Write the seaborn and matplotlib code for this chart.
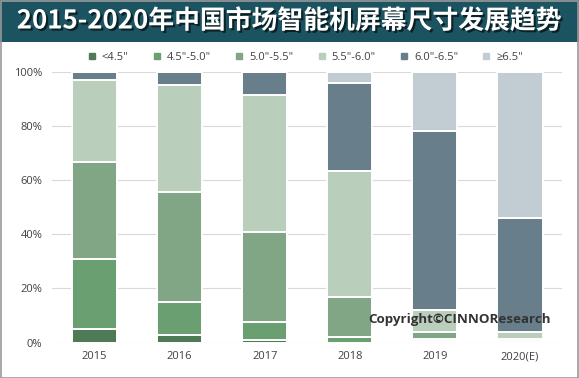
import numpy as np
import pandas as pd
import seaborn as sns
import matplotlib
matplotlib.use("Agg")
import matplotlib.pyplot as plt
from matplotlib.patches import Rectangle
from matplotlib.lines import Line2D
import matplotlib.patheffects as pe
from matplotlib.ticker import FuncFormatter

years = ["2015", "2016", "2017", "2018", "2019", "2020(E)"]
sizes = ['<4.5"', '4.5"-5.0"', '5.0"-5.5"', '5.5"-6.0"', '6.0"-6.5"', '≥6.5"']
s_lt45 = [5.0, 3.0, 1.0, 0.0, 0.5, 0.0]
s_45_50 = [26.0, 12.0, 6.5, 2.0, 1.0, 0.5]
s_50_55 = [35.5, 40.5, 33.5, 15.0, 2.5, 1.0]
s_55_60 = [30.5, 39.5, 50.5, 46.5, 8.0, 2.5]
s_60_65 = [3.0, 5.0, 8.5, 32.5, 66.0, 42.0]
s_ge65 = [0.0, 0.0, 0.0, 4.0, 22.0, 54.0]
series = [s_lt45, s_45_50, s_50_55, s_55_60, s_60_65, s_ge65]
colors = ["#4e7b56", "#6a9f72", "#81a685", "#b9cfbc", "#687f8b", "#c2cdd3"]
title = "2015-2020年中国市场智能机屏幕尺寸发展趋势"
copyright_text = "Copyright©CINNOResearch"

sns.set_theme(style="white")
plt.rcParams["font.family"] = ["Open Sans", "DejaVu Sans", "Noto Sans CJK SC"]

fig = plt.figure(figsize=(5.79, 3.78), dpi=100)
ax = fig.add_axes([0.0898, 0.0934, 0.8817, 0.7169])

bottom = np.zeros(len(years))
for name, vals, col in zip(sizes, series, colors):
    df = pd.DataFrame({"year": years, "val": vals})
    sns.barplot(data=df, x="year", y="val", color=col, width=0.53,
                bottom=bottom.copy(), edgecolor="white", linewidth=1.4,
                ax=ax, saturation=1)
    bottom += np.array(vals)

ax.set_ylim(0, 100)
ax.set_xlim(-0.5, 5.5)
ax.set_yticks([0, 20, 40, 60, 80, 100])
ax.yaxis.set_major_formatter(FuncFormatter(lambda v, p: f"{int(v)}%"))
ax.grid(axis="y", color="#d9d9d9", linewidth=0.8)
ax.set_axisbelow(True)
for s in ax.spines.values():
    s.set_visible(False)
ax.set_xlabel("")
ax.set_ylabel("")
ax.tick_params(axis="both", length=0, labelsize=8, labelcolor="#404040")
ax.tick_params(axis="y", pad=7)
ax.tick_params(axis="x", pad=6)

handles = [Line2D([0], [0], marker="s", linestyle="none", markersize=4,
                  markerfacecolor=c, markeredgecolor=c) for c in colors]
fig.legend(handles, sizes, loc="center", bbox_to_anchor=(0.527, 0.847),
           ncol=6, frameon=False, fontsize=8, labelcolor="#404040",
           handletextpad=0.5, columnspacing=2.15, handlelength=0.8)

# title band
fig.patches.append(Rectangle((0, 1 - 42 / 378), 1, 42 / 378, transform=fig.transFigure,
                             facecolor="#1c5361", edgecolor="none", zorder=0))
fig.text(0.5, 1 - 21 / 378, title, ha="center", va="center", color="white",
         fontsize=18.6, fontweight="bold", family=["Noto Sans CJK SC", "DejaVu Sans"],
         path_effects=[pe.withSimplePatchShadow(offset=(1.5, -1.5), shadow_rgbFace="black", alpha=0.6)])

fig.text(368 / 579, 1 - 320 / 378, copyright_text, ha="left", va="center",
         fontsize=9.6, fontweight="bold", color="#333333", zorder=10,
         family=["Open Sans", "DejaVu Sans"])

fig.patches.append(Rectangle((0.001, 0.001), 0.997, 0.997, transform=fig.transFigure,
                             facecolor="none", edgecolor="#9a9a9a", linewidth=1.2, zorder=20))

fig.savefig("out.png", dpi=100)
